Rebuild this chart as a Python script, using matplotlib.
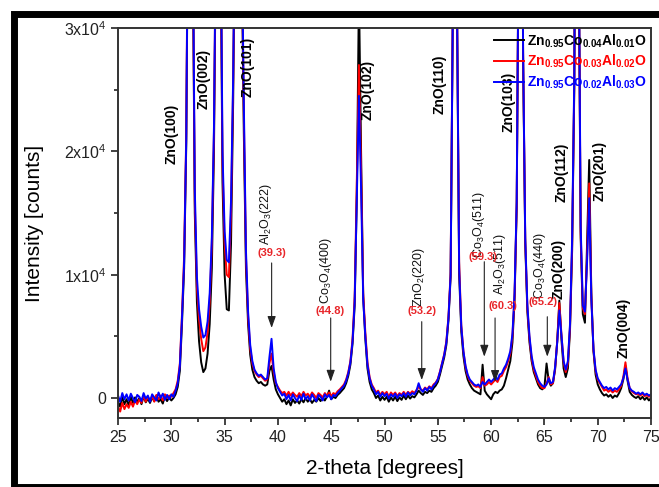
import numpy as np
import matplotlib
matplotlib.use('Agg')
import matplotlib.pyplot as plt
from matplotlib.lines import Line2D

plt.rcParams['font.family'] = ['Liberation Sans', 'DejaVu Sans']
plt.rcParams['mathtext.fontset'] = 'custom'
plt.rcParams['mathtext.rm'] = 'Liberation Sans'
plt.rcParams['mathtext.it'] = 'Liberation Sans:italic'
plt.rcParams['mathtext.bf'] = 'Liberation Sans:bold'

# scan grid, 2-theta in degrees (0.2 deg step)
two_theta = np.linspace(25, 75, 251)

# Zn0.95Co0.04Al0.01O (black)
counts_co04 = [
    -300, -700, 100, -500, -100,
    -600, 100, -400, 50, -300,
    0, -500, 150, -350, -50,
    -400, 50, -250, 200, -300,
    -100, -450, 150, -250, 50,
    -200, 0, 300, 900, 2200,
    6000, 10500, 20500, 44000, 60000,
    38000, 15000, 7800, 4600, 2900,
    2100, 2400, 3600, 6000, 10500,
    20000, 39000, 60000, 40000, 17500,
    10000, 7200, 7100, 12500, 24000,
    41000, 60000, 55000, 36000, 21500,
    10500, 6000, 3500, 2300, 1700,
    1400, 1200, 1300, 1100, 1000,
    1100, 2200, 2600, 1500, 700,
    300, 0, -300, -100, -500,
    -200, -600, -100, -400, -200,
    -450, -100, -350, 0, -300,
    -100, -400, -150, -300, 0,
    -250, 50, -200, 100, 600,
    -100, 100, 0, 250, 400,
    600, 800, 1200, 1800, 2700,
    4400, 7500, 16500, 33000, 20000,
    8200, 4800, 2400, 1300, 700,
    400, 0, 200, -200, 100,
    -150, 100, -300, 50, -200,
    100, -250, 50, -150, 200,
    -100, 200, -50, 150, 50,
    300, 600, 400, 250, 500,
    400, 600, 500, 800, 1000,
    1300, 1900, 2600, 3300, 4300,
    6300, 9800, 29500, 60000, 31500,
    10000, 5400, 3400, 2200, 1500,
    1100, 800, 600, 500, 400,
    300, 2700, 600, 300, 100,
    -100, 300, 500, 400, 600,
    700, 1000, 1600, 2300, 3000,
    4500, 8000, 15500, 40000, 60000,
    27500, 12500, 7000, 4500, 3000,
    2100, 1600, 1100, 800, 700,
    900, 2800, 1400, 1000, 1200,
    2300, 4600, 7900, 4700, 2400,
    1700, 2400, 5500, 12000, 25000,
    60000, 38000, 13000, 6800, 6100,
    12500, 19300, 8500, 3800, 1900,
    1100, 700, 400, 200, 300,
    100, 250, 0, 200, 100,
    400, 800, 1500, 2600, 1400,
    500, 250, 100, 0, 150,
    -100, 100, -150, 50, -200,
    0,
]

# Zn0.95Co0.03Al0.02O (red)
counts_co03 = [
    -700, -1100, -400, -900, -500,
    -800, -300, -700, -200, -500,
    -100, -400, 200, -300, 100,
    -200, 150, -300, 250, -100,
    200, -200, 300, 0, 200,
    100, 400, 700, 1400, 2800,
    6800, 11500, 21500, 46000, 60000,
    39000, 16000, 9000, 6400, 4800,
    3800, 4100, 5300, 7800, 12500,
    21500, 40000, 60000, 41000, 19000,
    12500, 10000, 9800, 15000, 25500,
    42000, 60000, 55000, 37000, 23000,
    11500, 6600, 4000, 2800, 2200,
    1900, 1700, 1800, 1600, 1400,
    1500, 2800, 3600, 2100, 1200,
    900, 600, 400, 500, 200,
    500, 200, 450, 250, 100,
    400, 150, 500, 200, 350,
    100, 450, 250, 0, 400,
    250, 50, 400, 200, 450,
    150, 400, 300, 550, 700,
    900, 1100, 1500, 2100, 3000,
    4800, 8200, 17500, 27000, 18500,
    8500, 5300, 2900, 1700, 1100,
    800, 450, 600, 250, 500,
    300, 500, 100, 450, 250,
    450, 150, 400, 250, 500,
    250, 500, 350, 550, 400,
    650, 900, 700, 600, 850,
    700, 950, 800, 1100, 1250,
    1550, 2150, 2850, 3550, 4600,
    6600, 10200, 30500, 60000, 32500,
    11000, 5900, 3800, 2500, 1800,
    1400, 1200, 1000, 900, 950,
    800, 1700, 1000, 1100, 1300,
    1100, 1300, 1500, 1300, 1700,
    1800, 2200, 2500, 3000, 3600,
    5000, 8300, 15800, 40000, 60000,
    28000, 12800, 7300, 4800, 3200,
    2300, 1800, 1300, 1000, 800,
    800, 1200, 1700, 1100, 1200,
    2400, 4600, 7700, 5100, 2900,
    2100, 2800, 5800, 12500, 25500,
    60000, 39000, 13500, 7300, 6800,
    11500, 17400, 8200, 3900, 2200,
    1500, 1200, 900, 600, 700,
    500, 650, 450, 600, 500,
    700, 1000, 1700, 2900, 1600,
    800, 550, 400, 300, 350,
    200, 350, 150, 250, 100,
    200,
]

# Zn0.95Co0.02Al0.03O (blue)
counts_co02 = [
    200, -300, 400, -100, 300,
    -200, 350, 0, -350, 250,
    100, -250, 400, -50, 200,
    -300, 300, 50, -200, 450,
    0, 350, -150, 250, -100,
    300, 100, 600, 1200, 2600,
    6500, 11000, 21000, 45000, 60000,
    40000, 17000, 9800, 7200, 5800,
    4900, 5100, 6200, 8500, 13000,
    22000, 40000, 60000, 42000, 20000,
    13500, 11200, 11000, 16000, 26000,
    42000, 60000, 55000, 38000, 24000,
    12000, 7000, 4300, 3000, 2300,
    2000, 1800, 1900, 1700, 1500,
    1600, 3300, 4800, 2400, 1300,
    800, 500, 200, 350, -100,
    250, -200, 300, 0, -250,
    200, -150, 350, -100, 150,
    -200, 300, 0, -250, 250,
    100, -200, 300, 50, 250,
    -100, 250, 150, 400, 600,
    800, 1000, 1400, 2000, 2900,
    4600, 7800, 16000, 24500, 17000,
    8000, 5000, 2700, 1600, 1000,
    700, 300, 500, 100, 400,
    150, 350, -50, 300, 100,
    350, 0, 300, 150, 400,
    100, 450, 200, 400, 300,
    600, 1200, 700, 500, 800,
    600, 900, 700, 1000, 1200,
    1500, 2100, 2800, 3500, 4500,
    6500, 10000, 30000, 60000, 32000,
    10500, 5800, 3800, 2600, 1900,
    1500, 1300, 1100, 1000, 1100,
    900, 1300, 1100, 1300, 1500,
    1300, 1500, 1700, 1500, 1900,
    2000, 2400, 2700, 3200, 3800,
    5200, 8500, 16000, 40000, 60000,
    28000, 13000, 7500, 5000, 3400,
    2500, 2000, 1500, 1200, 1000,
    900, 1100, 1600, 1200, 1300,
    2500, 4500, 7100, 5000, 3000,
    2300, 3000, 6000, 13000, 26000,
    60000, 40000, 14000, 7500, 7000,
    11000, 16200, 8000, 4000, 2300,
    1600, 1300, 1000, 800, 900,
    700, 850, 600, 800, 700,
    900, 1100, 1600, 2400, 1500,
    800, 600, 500, 350, 450,
    300, 450, 250, 350, 200,
    300,
]

series_labels = [r'$\mathbf{Zn_{0.95}Co_{0.04}Al_{0.01}O}$',
                 r'$\mathbf{Zn_{0.95}Co_{0.03}Al_{0.02}O}$',
                 r'$\mathbf{Zn_{0.95}Co_{0.02}Al_{0.03}O}$']
series_colors = ['black', '#ff0000', '#0000ff']

# ZnO reflections: label, 2-theta, intensity (label centre)
zno_labels = ['ZnO(100)', 'ZnO(002)', 'ZnO(101)', 'ZnO(102)', 'ZnO(110)',
              'ZnO(103)', 'ZnO(200)', 'ZnO(112)', 'ZnO(201)', 'ZnO(004)']
zno_x = [30.07, 33.0, 37.2, 48.4, 55.2, 61.6, 66.3, 66.6, 70.2, 72.4]
zno_y = [21400, 25860, 26840, 24970, 25460, 24000, 10460, 18320, 18400, 5680]

# secondary phases
phase_labels = [r'Al$_2$O$_3$(222)', r'Co$_3$O$_4$(400)', r'ZnO$_2$(220)',
                r'Co$_3$O$_4$(511)', r'Al$_2$O$_3$(511)', r'Co$_3$O$_4$(440)']
phase_x = [38.9, 44.5, 53.2, 58.9, 60.8, 64.6]
phase_y = [14900, 10350, 9800, 14030, 10850, 10700]
pos_labels = ['(39.3)', '(44.8)', '(53.2)', '(59.3)', '(60.3)', '(65.2)']
pos_x = [39.45, 44.93, 53.5, 59.25, 61.1, 64.9]
pos_y = [11760, 7050, 7050, 11470, 7420, 7820]
arrow_x = [39.41, 44.95, 53.49, 59.36, 60.37, 65.27]
arrow_top = [10950, 6490, 6190, 11050, 6490, 6590]
arrow_tip = [5680, 1320, 1460, 3350, 1300, 3350]

fig = plt.figure(figsize=(6.59, 4.87), dpi=100)
ax = fig.add_axes([0.1791, 0.1417, 0.8088, 0.8008])

lines = []
for vals, lab, col in zip([counts_co04, counts_co03, counts_co02], series_labels, series_colors):
    ln, = ax.plot(two_theta, vals, color=col, lw=1.4, label=lab)
    lines.append(ln)

ax.set_xlim(25, 75)
ax.set_ylim(-1620, 30000)
ax.set_xticks([25, 30, 35, 40, 45, 50, 55, 60, 65, 70, 75])
ax.set_xticks(np.arange(27.5, 75, 5), minor=True)
ax.set_yticks([0, 10000, 20000, 30000])
ax.set_yticklabels(['0', r'1x10$^4$', r'2x10$^4$', r'3x10$^4$'])
ax.set_yticks([5000, 15000, 25000], minor=True)
ax.tick_params(which='both', direction='out', top=False, right=False,
               labelsize=11.5, labelcolor='#222222', color='#222222', width=1.2)
ax.tick_params(which='major', length=5)
ax.tick_params(which='minor', length=3)
for sp in ax.spines.values():
    sp.set_color('#333333')
    sp.set_linewidth(1.4)

ax.set_xlabel('2-theta [degrees]', fontsize=15, labelpad=10)
ax.set_ylabel('Intensity [counts]', fontsize=15, labelpad=14)

for lab, x, y in zip(zno_labels, zno_x, zno_y):
    ax.text(x, y, lab, rotation=90, ha='center', va='center',
            fontsize=10, fontweight='bold', color='black')

for lab, x, y in zip(phase_labels, phase_x, phase_y):
    ax.text(x, y, lab, rotation=90, ha='center', va='center',
            fontsize=9, color='#111111')

for lab, x, y in zip(pos_labels, pos_x, pos_y):
    ax.text(x, y, lab, ha='center', va='center', fontsize=8,
            fontweight='bold', color='#e8262a')

for x, y0, y1 in zip(arrow_x, arrow_top, arrow_tip):
    ax.annotate('', xy=(x, y1), xytext=(x, y0),
                arrowprops=dict(arrowstyle='-|>,head_length=0.7,head_width=0.25',
                                color='#222222', lw=0.8, mutation_scale=10,
                                shrinkA=0, shrinkB=0))

leg = ax.legend(handles=lines, loc='upper right', bbox_to_anchor=(1.0, 1.0),
                frameon=False, fontsize=10, handlelength=2.2, handletextpad=0.2,
                labelspacing=0.25, borderaxespad=0.0, borderpad=0.3,
                labelcolor='linecolor')

# thick black frame around the figure (right side falls outside the crop)
fx0 = 13.5 / 659
fy_top = 1 - 13.5 / 487
fy_bot = 0.001
fig.add_artist(Line2D([1.0, fx0, fx0, 1.0], [fy_top, fy_top, fy_bot, fy_bot],
                      transform=fig.transFigure, color='black', lw=5.0,
                      solid_joinstyle='miter', solid_capstyle='butt'))

fig.savefig('out.png', dpi=100)
